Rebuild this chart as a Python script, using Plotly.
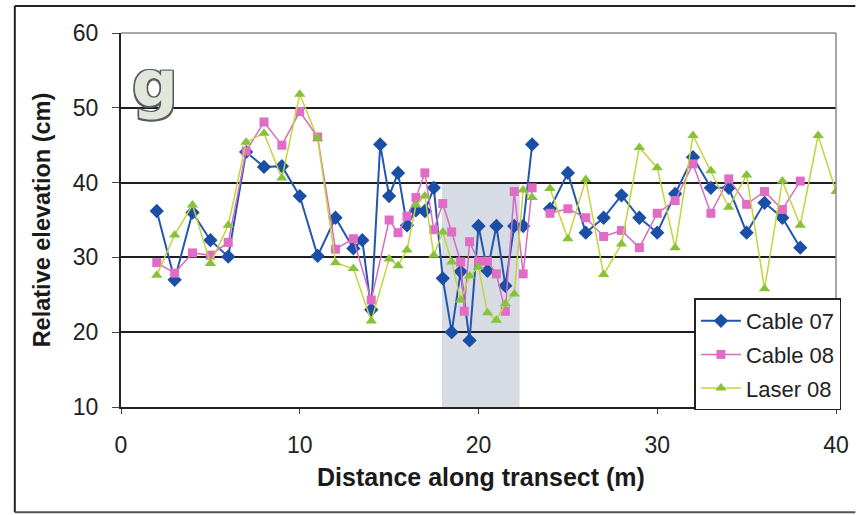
import plotly.graph_objects as go

# ---------------- data ----------------
x_cable07 = [2, 3, 4, 5, 6, 7, 8, 9, 10, 11, 12, 13, 13.5, 14, 14.5, 15, 15.5, 16, 16.5, 17,
             17.5, 18, 18.5, 19, 19.5, 20, 20.5, 21, 21.5, 22, 22.5, 23, None,
             24, 25, 26, 27, 28, 29, 30, 31, 32, 33, 34, 35, 36, 37, 38]
y_cable07 = [36.2, 27.0, 36.0, 32.3, 30.1, 44.1, 42.1, 42.2, 38.2, 30.2, 35.3, 31.2, 32.3, 23.0, 45.1,
             38.2, 41.3, 34.3, 36.3, 36.2, 39.3, 27.2, 20.0, 28.1, 18.9, 34.2, 28.2, 34.2, 26.2,
             34.2, 34.2, 45.1, None,
             36.5, 41.3, 33.3, 35.3, 38.3, 35.3, 33.3, 38.5, 43.4, 39.3, 39.3, 33.3, 37.3, 35.3, 31.3]

x_cable08 = [2, 3, 4, 5, 6, 7, 8, 9, 10, 11, 12, 13, 14, 15, 15.5, 16, 16.5, 17, 17.5, 18,
             18.5, 19, 19.2, 19.5, 20, 20.5, 21, 21.5, 22, 22.5, 23, None,
             24, 25, 26, 27, 28, 29, 30, 31, 32, 33, 34, 35, 36, 37, 38]
y_cable08 = [29.3, 27.9, 30.6, 30.3, 32.0, 44.2, 48.1, 45.0, 49.5, 46.1, 31.1, 32.5, 24.3, 35.0,
             33.3, 35.5, 38.0, 41.3, 33.7, 37.2, 33.4, 29.4, 22.8, 32.1, 29.5, 29.5, 27.8, 22.8,
             38.8, 27.8, 39.3, None,
             35.9, 36.5, 35.3, 32.8, 33.6, 31.3, 35.9, 37.6, 42.5, 35.9, 40.5, 37.1, 38.8, 36.4, 40.2]

x_laser08 = [2, 3, 4, 5, 6, 7, 8, 9, 10, 11, 12, 13, 14, 15, 15.5, 16, 16.5, 17, 17.5, 18,
             18.5, 19, 19.5, 20, 20.5, 21, 21.5, 22, 22.5, 23, None,
             24, 25, 26, 27, 28, 29, 30, 31, 32, 33, 34, 35, 36, 37, 38, 39, 40]
y_laser08 = [27.6, 33.0, 37.0, 29.2, 34.3, 45.4, 46.6, 40.6, 51.8, 45.9, 29.3, 28.5, 21.5, 29.8,
             28.9, 31.0, 37.0, 38.2, 30.3, 33.4, 29.4, 24.3, 27.5, 28.7, 22.6, 21.6, 23.8, 25.1,
             39.0, 38.0, None,
             39.2, 32.5, 40.4, 27.7, 31.8, 44.7, 42.0, 31.3, 46.3, 41.6, 36.7, 41.0, 25.8, 40.2,
             34.3, 46.3, 38.8]

series_names = ["Cable 07", "Cable 08", "Laser 08"]
x_ticks = [0, 10, 20, 30, 40]
y_ticks = [10, 20, 30, 40, 50, 60]
shaded_x = [17.95, 22.3]
shaded_y = [10, 40]
panel_label = "g"
x_title = "Distance along transect (m)"
y_title = "Relative elevation (cm)"

FONT = "Liberation Sans, Arial, sans-serif"

W, H = 861, 515
L, R, T, B = 121, 19.5, 33, 107.5
PW, PH = W - L - R, H - T - B


def px_x(px):
    return (px - L) / PW


def px_y(py):
    return (H - B - py) / PH


fig = go.Figure()

fig.add_trace(go.Scatter(
    x=x_cable07, y=y_cable07, name=series_names[0], mode="lines+markers",
    legendgroup="a",
    line=dict(color="#2456b0", width=2),
    marker=dict(symbol="diamond", size=11, color="#1b4ea6"),
    connectgaps=False,
))
fig.add_trace(go.Scatter(
    x=x_cable08, y=y_cable08, name=series_names[1], mode="lines+markers",
    legendgroup="b",
    line=dict(color="#d46cc4", width=1.5),
    marker=dict(symbol="square", size=9, color="#e06cc6"),
    connectgaps=False,
))
fig.add_trace(go.Scatter(
    x=x_laser08, y=y_laser08, name=series_names[2], mode="lines+markers",
    legendgroup="c",
    line=dict(color="#c4d43c", width=1.5),
    marker=dict(symbol="triangle-up", size=10, color="#86c23a"),
    connectgaps=False,
))

shapes = [
    dict(type="rect", xref="x", yref="y", x0=shaded_x[0], x1=shaded_x[1],
         y0=shaded_y[0], y1=shaded_y[1], fillcolor="#d6dbe4", line=dict(width=0),
         layer="below"),
    dict(type="line", xref="paper", yref="paper", x0=0, x1=1, y0=1, y1=1,
         line=dict(color="#8a8a8a", width=1.5)),
    dict(type="line", xref="paper", yref="paper", x0=1, x1=1, y0=0, y1=1,
         line=dict(color="#8a8a8a", width=1.5)),
    # outer chart frame
    dict(type="line", xref="paper", yref="paper",
         x0=px_x(14), x1=px_x(14), y0=px_y(513), y1=px_y(6),
         line=dict(color="#222", width=2)),
    dict(type="line", xref="paper", yref="paper",
         x0=px_x(14), x1=px_x(861), y0=px_y(6), y1=px_y(6),
         line=dict(color="#222", width=2)),
    dict(type="line", xref="paper", yref="paper",
         x0=px_x(14), x1=px_x(861), y0=px_y(513), y1=px_y(513),
         line=dict(color="#555", width=2)),
]

annotations = [
    dict(text=panel_label, xref="paper", yref="paper", x=px_x(155), y=px_y(84),
         xanchor="center", yanchor="middle", showarrow=False,
         font=dict(family="DejaVu Sans, sans-serif", size=64, color="#e2e7dc", weight="bold",
                   shadow="1.5px 1.5px 0 #5a5a5a, -1.5px -1.5px 0 #5a5a5a, 1.5px -1.5px 0 #5a5a5a, -1.5px 1.5px 0 #5a5a5a")),
    dict(text=x_title, xref="paper", yref="paper", x=px_x(484), y=px_y(478),
         xanchor="center", yanchor="middle", showarrow=False,
         font=dict(family=FONT, size=25, color="#1a1a1a", weight="bold")),
    dict(text=y_title, xref="paper", yref="paper", x=px_x(41), y=px_y(220),
         xanchor="center", yanchor="middle", showarrow=False, textangle=-90,
         font=dict(family=FONT, size=23.5, color="#1a1a1a", weight="bold")),
]

fig.update_layout(
    width=W, height=H,
    margin=dict(l=L, r=R, t=T, b=B, pad=0),
    paper_bgcolor="white", plot_bgcolor="white",
    font=dict(family=FONT, color="#222"),
    shapes=shapes, annotations=annotations,
    legend=dict(x=px_x(847), y=px_y(411), xanchor="right", yanchor="bottom",
                bgcolor="white", bordercolor="#222", borderwidth=1.5,
                font=dict(family=FONT, size=22, color="#222"),
                tracegroupgap=2, itemwidth=40),
    showlegend=True,
)

fig.update_xaxes(
    range=[0, 40], tickvals=x_ticks, ticktext=[str(v) for v in x_ticks],
    showgrid=False, zeroline=False, showline=True, linecolor="#222", linewidth=2,
    ticks="outside", ticklen=5, tickcolor="#444", tickwidth=1,
    tickfont=dict(family=FONT, size=23, color="#222"), ticklabelstandoff=11,
)
fig.update_yaxes(
    range=[10, 60], tickvals=y_ticks, ticktext=[str(v) for v in y_ticks],
    showgrid=True, gridcolor="#1e1e1e", gridwidth=1.6, zeroline=False,
    showline=True, linecolor="#222", linewidth=2,
    ticks="outside", ticklen=7, tickcolor="#444", tickwidth=1,
    tickfont=dict(family=FONT, size=23, color="#222"), ticklabelstandoff=9,
)

fig.write_html(
    "out.html",
    config={"displayModeBar": False},
    post_script="document.body.style.margin='0';document.body.style.padding='0';document.body.style.overflow='hidden';",
)
